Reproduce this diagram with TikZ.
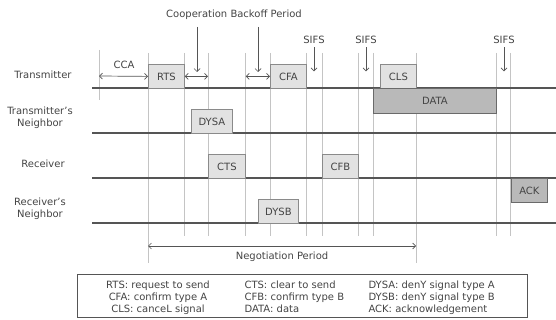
\documentclass[tikz,border=0pt]{standalone}
\usepackage{fontspec}
\setmainfont{DejaVu Sans}
\usetikzlibrary{arrows.meta,positioning,calc}

\definecolor{txtgray}{HTML}{444444}
\definecolor{axisgray}{HTML}{555555}
\definecolor{gridgray}{HTML}{C4C4C4}
\definecolor{boxline}{HTML}{8A8A8A}
\definecolor{boxfill}{HTML}{E2E2E2}
\definecolor{darkfill}{HTML}{B9B9B9}
\definecolor{darkline}{HTML}{6A6A6A}

\begin{document}
\begin{tikzpicture}[x=1pt, y=-1pt, font=\fontsize{10}{12}\selectfont, text=txtgray,
    msg/.style={draw=boxline, fill=boxfill, line width=0.8pt, minimum height=24pt, inner sep=0pt, anchor=north west},
    bigmsg/.style={msg, fill=darkfill, draw=darkline},
    axisline/.style={draw=axisgray, line width=1.2pt},
    gridline/.style={draw=gridgray, line width=0.6pt},
    span/.style={draw=axisgray, line width=0.7pt, {Straight Barb[length=3pt]}-{Straight Barb[length=3pt]}},
    pointer/.style={draw=axisgray, line width=0.7pt, -{Straight Barb[length=3pt]}},
    rowlabel/.style={align=center, anchor=center}]

    \useasboundingbox (0,0) rectangle (556,320);

    % Time grid
    \foreach \x in {184,208,245,270,306,322,358,373,496,510} {
      \draw[gridline] (\x,53) -- (\x,236);
    }
    \foreach \x in {148,416} {
      \draw[gridline] (\x,53) -- (\x,263);
    }
    \draw[gridline] (99,50) -- (99,100);

    % Rows
    \foreach \y/\name in {88/tx,133/txn,178/rx,223/rxn} {
      \coordinate (\name-start) at (92,\y);
      \coordinate (\name-end) at (556,\y);
      \draw[axisline] (\name-start) -- (\name-end);
    }
    \node[rowlabel] (lblTx) at (43,75) {Transmitter};
    \node[rowlabel] (lblTxn) at (40,118) {Transmitter's\\Neighbor};
    \node[rowlabel] (lblRx) at (43,164) {Receiver};
    \node[rowlabel] (lblRxn) at (40,209) {Receiver's\\Neighbor};

    % Frames
    \node[msg, minimum width=36pt] (RTS) at (148,64) {RTS};
    \node[msg, minimum width=36pt] (CFA) at (270,64) {CFA};
    \node[msg, minimum width=36pt] (CLS) at (380,64) {CLS};
    \node[bigmsg, minimum width=123pt, minimum height=25pt] (DATA) at (373,88) {DATA};
    \node[msg, minimum width=41pt] (DYSA) at (191,109) {DYSA};
    \node[msg, minimum width=37pt] (CTS) at (208,154) {CTS};
    \node[msg, minimum width=36pt] (CFB) at (322,154) {CFB};
    \node[bigmsg, minimum width=36pt] (ACK) at (511,178) {ACK};
    \node[msg, minimum width=40pt] (DYSB) at (258,199) {DYSB};

    % CCA and backoff spans
    \coordinate (ccaStart) at (99,76);
    \draw[span] (ccaStart) -- (RTS.west);
    \node (CCA) at (124,65) {CCA};
    \draw[span] (RTS.east) -- (RTS.east -| CTS.west);
    \draw[span] (CFA.west -| CTS.east) -- (CFA.west);

    % Cooperation backoff period
    \node (Backoff) at (234,15) {Cooperation Backoff Period};
    \coordinate (bo1) at (197,27);
    \coordinate (bo2) at (258,27);
    \draw[pointer] (bo1) -- ++(0,45);
    \draw[pointer] (bo2) -- ++(0,45);

    % SIFS
    \foreach \x/\i in {314/1,366/2,504/3} {
      \node (sifs\i) at (\x,40) {SIFS};
      \draw[pointer] (sifs\i.south) -- ++(0,24);
    }

    % Negotiation period
    \coordinate (negStart) at (148,246);
    \coordinate (negEnd) at (416,246);
    \draw[span] (negStart) -- (negEnd);
    \node (Negotiation) at (282,257) {Negotiation Period};

    % Legend
    \node[draw=axisgray, line width=0.7pt, minimum width=450pt, minimum height=43pt, anchor=north west] (legend) at (77,274) {};
    \node[align=center, anchor=north] (legA) at (158,277) {RTS: request to send\\CFA: confirm type A\\CLS: canceL signal};
    \node[align=left, anchor=north west] (legB) at (241,277) {CTS: clear to send\\CFB: confirm type B\\DATA: data};
    \node[align=left, anchor=north west] (legC) at (365,277) {DYSA: denY signal type A\\DYSB: denY signal type B\\ACK: acknowledgement};
  \end{tikzpicture}
\end{document}
